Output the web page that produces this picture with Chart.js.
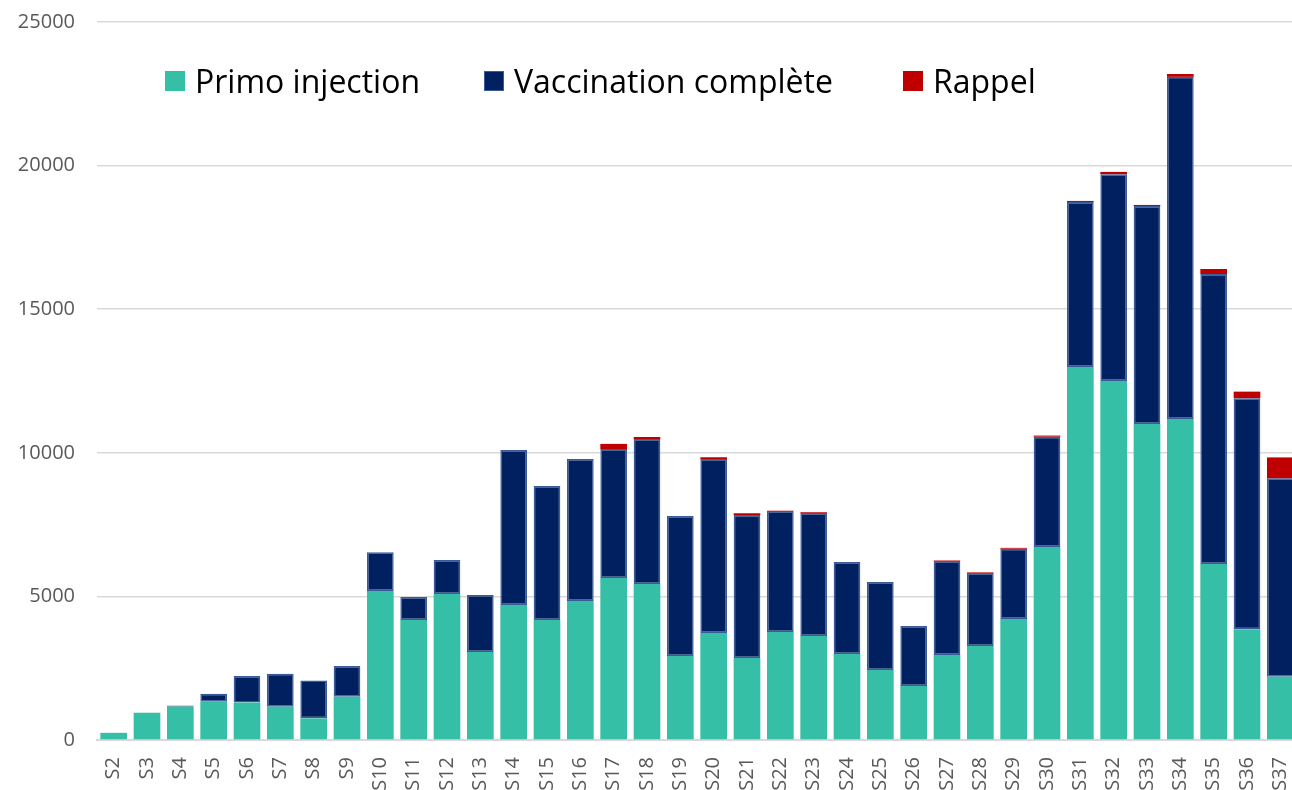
<!DOCTYPE html>
<html>
<head>
<meta charset="utf-8">
<script src="https://cdn.jsdelivr.net/npm/chart.js@4.4.0/dist/chart.umd.min.js"></script>
<style>
  html, body { margin: 0; padding: 0; background: #fff; overflow: hidden; }
  #wrap { position: relative; width: 1292px; height: 790px; overflow: hidden; }
  #legend { position: absolute; top: 59px; left: 165px; display: flex; font-family: "Open Sans", sans-serif; font-size: 32px; color: #000; }
  #legend .item { display: flex; align-items: center; }
  #legend .box { width: 20px; height: 20px; margin-right: 10px; box-sizing: border-box; }
</style>
</head>
<body>
<div id="wrap">
  <canvas id="chart" width="1297" height="790"></canvas>
  <div id="legend"></div>
</div>
<script>
const weeks = ['S2','S3','S4','S5','S6','S7','S8','S9','S10','S11','S12','S13','S14','S15','S16','S17','S18','S19',
  'S20','S21','S22','S23','S24','S25','S26','S27','S28','S29','S30','S31','S32','S33','S34','S35','S36','S37'];

const primo = [250, 950, 1160, 1330, 1310, 1160, 755, 1510, 5190, 4180, 5080, 3060, 4700, 4180, 4840, 5640, 5430, 2925,
  3725, 2855, 3760, 3620, 2995, 2440, 1880, 2960, 3270, 4210, 6720, 12990, 12500, 11000, 11180, 6130, 3855, 2205];

const complete = [0, 0, 40, 280, 920, 1150, 1320, 1065, 1350, 800, 1190, 1990, 5400, 4665, 4945, 4490, 5050, 4875,
  6060, 4980, 4215, 4280, 3205, 3060, 2090, 3270, 2545, 2450, 3840, 5740, 7200, 7590, 11910, 10095, 8045, 6905];

const rappel = [0, 0, 0, 0, 0, 0, 0, 0, 0, 0, 0, 0, 0, 0, 0, 180, 70, 0,
  60, 60, 10, 30, 0, 0, 0, 20, 20, 30, 40, 40, 80, 40, 100, 175, 230, 730];

const seriesNames = ['Primo injection', 'Vaccination complète', 'Rappel'];
const yTicks = [0, 5000, 10000, 15000, 20000, 25000];

const colors = ['#36BFA7', '#002060', '#C00000'];
const borders = ['#36BFA7', '#3A5A9A', '#C00000'];
const legendWidths = [319, 419, 140];

const chart = new Chart(document.getElementById('chart').getContext('2d'), {
  type: 'bar',
  data: {
    labels: weeks,
    datasets: [primo, complete, rappel].map((values, i) => ({
      label: seriesNames[i],
      data: values,
      backgroundColor: colors[i],
      borderColor: borders[i],
      borderWidth: i === 1 ? 1.5 : 0,
      borderSkipped: false,
      categoryPercentage: 1,
      barPercentage: 0.8,
    })),
  },
  options: {
    responsive: false,
    animation: false,
    layout: { padding: { top: 22, right: 0, left: 0, bottom: 0 } },
    plugins: {
      legend: { display: false },
      tooltip: { enabled: false },
    },
    scales: {
      x: {
        stacked: true,
        offset: true,
        grid: { display: false },
        border: { color: '#D9D9D9', width: 2 },
        afterFit: (axis) => { axis.height = 50; axis.paddingLeft = 0; axis.paddingRight = 0; },
        ticks: {
          color: '#595959',
          font: { family: 'Open Sans', size: 20 },
          minRotation: 90,
          maxRotation: 90,
          autoSkip: false,
          padding: 9,
        },
      },
      y: {
        stacked: true,
        min: 0,
        max: 25000,
        afterBuildTicks: (axis) => { axis.ticks = yTicks.map(v => ({ value: v })); },
        afterFit: (axis) => { axis.width = 97; axis.paddingTop = 0; axis.paddingBottom = 0; },
        grid: { color: '#D9D9D9', lineWidth: 1.5, drawTicks: false },
        border: { display: false },
        ticks: {
          color: '#595959',
          font: { family: 'Open Sans', size: 20 },
          padding: 22,
          callback: (v) => String(v),
        },
      },
    },
  },
});

// legend drawn as HTML text from the dataset names
const legend = document.getElementById('legend');
chart.data.datasets.forEach((ds, i) => {
  const item = document.createElement('div');
  item.className = 'item';
  item.style.width = legendWidths[i] + 'px';
  const box = document.createElement('span');
  box.className = 'box';
  box.style.background = ds.backgroundColor;
  if (ds.borderWidth) box.style.border = '1.5px solid ' + ds.borderColor;
  const text = document.createElement('span');
  text.textContent = ds.label;
  item.appendChild(box);
  item.appendChild(text);
  legend.appendChild(item);
});
</script>
</body>
</html>
